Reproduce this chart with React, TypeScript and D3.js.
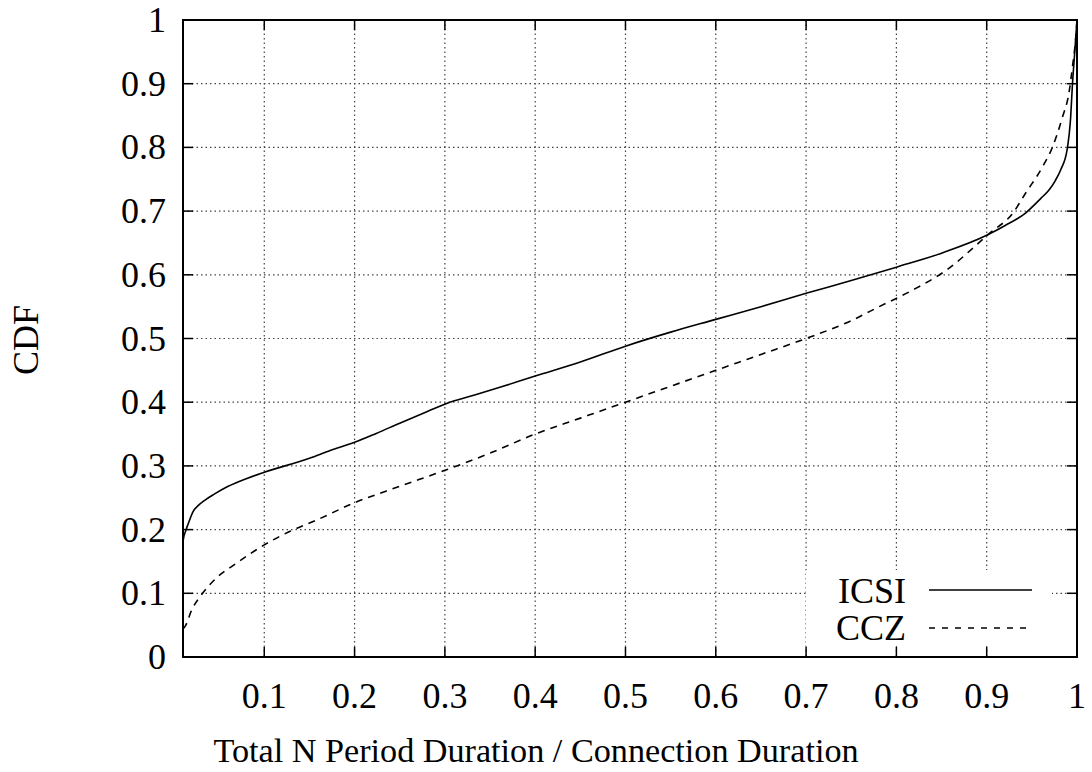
import React from "react";
import * as d3 from "d3";

const icsiX = [0.01, 0.0103, 0.013, 0.016, 0.021, 0.027, 0.034, 0.045, 0.06, 0.08, 0.1, 0.15, 0.173, 0.2, 0.224, 0.25, 0.28, 0.302, 0.33, 0.36, 0.4, 0.45, 0.5, 0.55, 0.6, 0.65, 0.7, 0.75, 0.8, 0.85, 0.9, 0.92, 0.943, 0.96, 0.969, 0.976, 0.982, 0.989, 0.993, 0.995, 0.997, 0.999, 1.0];
const icsiY = [0.18, 0.184, 0.198, 0.21, 0.228, 0.238, 0.246, 0.256, 0.268, 0.28, 0.29, 0.312, 0.324, 0.337, 0.351, 0.367, 0.385, 0.398, 0.41, 0.423, 0.441, 0.463, 0.488, 0.51, 0.53, 0.55, 0.571, 0.591, 0.612, 0.634, 0.662, 0.677, 0.697, 0.72, 0.733, 0.748, 0.765, 0.796, 0.848, 0.9, 0.94, 0.98, 1.0];

const cczX = [0.01, 0.0123, 0.02, 0.029, 0.047, 0.069, 0.1, 0.128, 0.158, 0.198, 0.25, 0.3, 0.35, 0.4, 0.45, 0.5, 0.55, 0.6, 0.65, 0.7, 0.75, 0.781, 0.818, 0.855, 0.903, 0.929, 0.943, 0.962, 0.973, 0.984, 0.991, 0.995, 0.999, 1.0];
const cczY = [0.044, 0.048, 0.075, 0.095, 0.124, 0.147, 0.176, 0.197, 0.215, 0.241, 0.268, 0.293, 0.32, 0.35, 0.375, 0.4, 0.425, 0.45, 0.475, 0.5, 0.528, 0.55, 0.576, 0.607, 0.665, 0.697, 0.728, 0.77, 0.801, 0.848, 0.885, 0.927, 0.979, 1.0];

const xTicks = [0.1, 0.2, 0.3, 0.4, 0.5, 0.6, 0.7, 0.8, 0.9, 1];
const yTicks = [0, 0.1, 0.2, 0.3, 0.4, 0.5, 0.6, 0.7, 0.8, 0.9, 1];
const seriesNames = ["ICSI", "CCZ"];
const xLabel = "Total N Period Duration / Connection Duration";
const yLabel = "CDF";

const W = 1092, H = 772;
const left = 183, right = 1077, top = 20, bottom = 657;
const FONT = "Liberation Serif, Times New Roman, serif";

export default function App() {
  const x = d3.scaleLinear().domain([0.01, 1]).range([left, right]);
  const y = d3.scaleLinear().domain([0, 1]).range([bottom, top]);
  const line = d3.line<[number, number]>().x(d => x(d[0])).y(d => y(d[1])).curve(d3.curveMonotoneX);
  const icsi = icsiX.map((v, i) => [v, icsiY[i]] as [number, number]);
  const ccz = cczX.map((v, i) => [v, cczY[i]] as [number, number]);
  const fmt = (v: number) => (v === 0 ? "0" : v === 1 ? "1" : String(v));
  const tl = 10;
  return (
    <svg width={W} height={H} style={{ position: "absolute", left: 0, top: 0, background: "#fff" }} fontFamily={FONT}>
      <rect x={0} y={0} width={W} height={H} fill="#fff" />
      {xTicks.filter(t => t < 1).map(t => (
        <line key={"gx" + t} x1={x(t)} x2={x(t)} y1={top} y2={bottom} stroke="#444" strokeWidth={1.2} strokeDasharray="1.5,3" />
      ))}
      {yTicks.filter(t => t > 0 && t < 1).map(t => (
        <line key={"gy" + t} x1={left} x2={right} y1={y(t)} y2={y(t)} stroke="#444" strokeWidth={1.2} strokeDasharray="1.5,3" />
      ))}
      <rect x={806} y={570} width={246} height={76} fill="#fff" />
      <path d={line(icsi) || ""} fill="none" stroke="#000" strokeWidth={1.6} />
      <path d={line(ccz) || ""} fill="none" stroke="#000" strokeWidth={1.6} strokeDasharray="7,6" />
      {xTicks.map(t => (
        <g key={"tx" + t}>
          <line x1={x(t)} x2={x(t)} y1={bottom} y2={bottom - tl} stroke="#000" strokeWidth={1.5} />
          <line x1={x(t)} x2={x(t)} y1={top} y2={top + tl} stroke="#000" strokeWidth={1.5} />
          <text x={x(t)} y={708} fontSize={36} textAnchor="middle">{fmt(t)}</text>
        </g>
      ))}
      {yTicks.map(t => (
        <g key={"ty" + t}>
          <line x1={left} x2={left + tl} y1={y(t)} y2={y(t)} stroke="#000" strokeWidth={1.5} />
          <line x1={right} x2={right - tl} y1={y(t)} y2={y(t)} stroke="#000" strokeWidth={1.5} />
          <text x={166} y={y(t) + 12} fontSize={36} textAnchor="end">{fmt(t)}</text>
        </g>
      ))}
      <rect x={left} y={top} width={right - left} height={bottom - top} fill="none" stroke="#000" strokeWidth={2} />
      <text x={906} y={603} fontSize={36} textAnchor="end">{seriesNames[0]}</text>
      <line x1={929} x2={1032} y1={590} y2={590} stroke="#000" strokeWidth={1.6} />
      <text x={906} y={640} fontSize={36} textAnchor="end">{seriesNames[1]}</text>
      <line x1={929} x2={1032} y1={628} y2={628} stroke="#000" strokeWidth={1.4} strokeDasharray="6,7" />
      <text x={536} y={762} fontSize={34.2} textAnchor="middle">{xLabel}</text>
      <text transform="translate(38,340) rotate(-90)" fontSize={36} textAnchor="middle">{yLabel}</text>
    </svg>
  );
}
